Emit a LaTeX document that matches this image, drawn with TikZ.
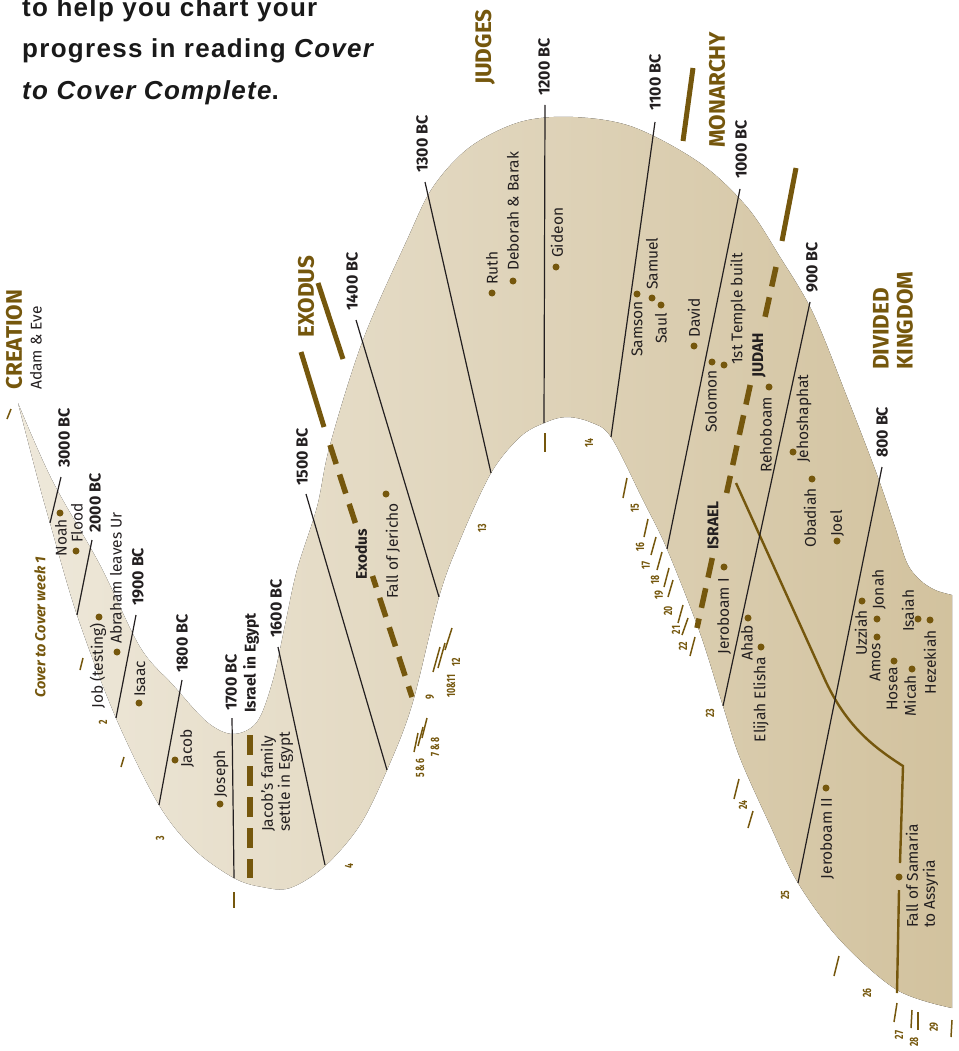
\documentclass[tikz,border=0pt]{standalone}
\usepackage{fontspec}
\setmainfont{Fira Sans}
\newfontfamily\topfont{Liberation Sans}[LetterSpace=5]
\definecolor{gold}{RGB}{117,87,13}
\definecolor{ink}{RGB}{35,31,32}
\definecolor{bandL}{RGB}{238,232,218}
\definecolor{bandR}{RGB}{210,194,158}
\newcommand{\wkn}[1]{\scalebox{0.72}[1]{#1}}
\tikzset{
  dateline/.style={draw=ink, line width=1.2pt},
  wtick/.style={draw=gold, line width=1.5pt},
  erabar/.style={draw=gold, line width=5pt},
  eradash/.style={draw=gold, line width=5.5pt, dash pattern=on 20pt off 11pt},
  splitline/.style={draw=gold, line width=2.4pt},
  datelbl/.style={rotate=90, anchor=west, inner sep=0pt, text=ink, font=\bfseries\fontsize{16}{16}\selectfont},
  evt/.style={rotate=90, inner sep=0pt, text=ink, font=\fontsize{15.5}{17}\selectfont},
  evtw/.style={evt, anchor=west},
  evte/.style={evt, anchor=east},
  evtb/.style={rotate=90, anchor=west, inner sep=0pt, text=ink, font=\bfseries\fontsize{15.5}{16}\selectfont},
  eralbl/.style={rotate=90, anchor=west, inner sep=0pt, text=gold, font=\bfseries\fontsize{22.5}{24}\selectfont},
  wk/.style={rotate=90, inner sep=0pt, text=gold, font=\bfseries\fontsize{12}{12}\selectfont},
  evdot/.style={circle, fill=gold, inner sep=0pt, minimum size=7pt},
  topline/.style={anchor=base west, inner sep=0pt, text=black!90, font=\topfont\bfseries\fontsize{26}{28}\selectfont}
}
\begin{document}
\begin{tikzpicture}[x=1pt,y=-1pt]
\useasboundingbox (0,0) rectangle (958,1051);
% ribbon
\fill[left color=bandL, right color=bandR]
  plot[smooth, tension=0.55] coordinates {(18,403) (38,480) (50,523) (77,615) (116,718) (159,805) (195,850) (234,878) (262,887) (290,888) (325,866) (360,825) (387,770) (412,705) (439,597) (460,540) (491,473) (520,437) (544,423) (566,417) (590,422) (611,437) (643,500) (667,549) (700,633) (723,706) (740,758) (770,825) (798,883) (840,940) (897,990) (952,1008)}
  -- (952,595) --
  plot[smooth, tension=0.55] coordinates {(952,595) (935,590) (920,580) (907,563) (895,527) (876,472) (847,397) (813,313) (780,257) (747,207) (700,163) (633,127) (573,117) (520,122) (470,147) (433,187) (407,240) (363,340) (330,445) (317,507) (297,570) (285,625) (273,680) (257,722) (233,734) (207,722) (173,685) (140,647) (100,565) (52,480) (18,403)}
  -- cycle;

% top text
\node[topline] (top1) at (22,17) {to help you chart your};
\node[topline] (top2) at (22,58) {progress in reading \textit{Cover}};
\node[topline] (top3) at (22,100) {\textit{to Cover Complete}.};

% era labels
\node[eralbl] (creation) at (14,390) {CREATION};
\node[evtw] (adam) at (36,390) {Adam \& Eve};
\node[eralbl] (exodusera) at (306,338) {EXODUS};
\node[eralbl] (judges) at (485,85) {JUDGES};
\node[eralbl] (monarchy) at (717,148) {MONARCHY};
\node[eralbl, align=left] (divided) at (893,370) {DIVIDED\\KINGDOM};

% era markers
\draw[erabar] (318,283) -- (343,359);
\draw[erabar] (301,352) -- (324,427);
\draw[eradash] (330,445) -- (356,525);
\draw[eradash, dash phase=8pt] (372.5,576) -- (412,697);
\draw[erabar] (693,68) -- (683,141);
\draw[erabar] (796,168) -- (782,241);
\draw[eradash] (776,267) -- (764.8,318);
\draw[eradash] (750.2,385) -- (726.6,493);
\draw[eradash] (712.3,558) -- (697,628);
\draw[eradash] (250,735) -- (250,878);

% Israel line
\coordinate (isA) at (736,483);
\coordinate (isB) at (903,766);
\coordinate (isC) at (900,863);
\coordinate (isD) at (899,890);
\coordinate (isE) at (897,993);
\draw[splitline] (isA) -- (826,682) .. controls (846,724) and (870,745) .. (isB) -- (isC);
\draw[splitline] (isD) -- (isE);

% date lines and labels
\node[datelbl] (d3000) at (64,468) {3000 BC};
\draw[dateline] (61,477) -- (50,523);
\node[datelbl] (d2000) at (95,533) {2000 BC};
\draw[dateline] (92,540) -- (77,615);
\node[datelbl] (d1900) at (138,606) {1900 BC};
\draw[dateline] (136,615) -- (116,718);
\node[datelbl] (d1800) at (182,673) {1800 BC};
\draw[dateline] (182,680) -- (159,805);
\node[datelbl] (d1700) at (231,711) {1700 BC};
\draw[dateline] (232,718) -- (234,878);
\node[datelbl] (d1600) at (276,638) {1600 BC};
\draw[dateline] (278,647) -- (325,865);
\node[datelbl] (d1500) at (302,486) {1500 BC};
\draw[dateline] (306,494) -- (387,770);
\node[datelbl] (d1400) at (352,311) {1400 BC};
\draw[dateline] (356,320) -- (439,597);
\node[datelbl] (d1300) at (422,173) {1300 BC};
\draw[dateline] (425,182) -- (491,473);
\node[datelbl] (d1200) at (544,96) {1200 BC};
\draw[dateline] (545,105) -- (544,423);
\node[datelbl] (d1100) at (655,111) {1100 BC};
\draw[dateline] (655,122) -- (611,437);
\node[datelbl] (d1000) at (741,179) {1000 BC};
\draw[dateline] (740,189) -- (667,549);
\node[datelbl] (d900) at (812,293) {900 BC};
\draw[dateline] (810,302) -- (723,706);
\node[datelbl] (d800) at (882,458) {800 BC};
\draw[dateline] (882,467) -- (798,883);

% bold phase labels
\node[evtb] (israelegypt) at (251,713) {Israel in Egypt};
\node[evtb] (exodus) at (361,580) {Exodus};
\node[evtb] (israel) at (713,550) {ISRAEL};
\node[evtb] (judah) at (759,378) {JUDAH};

% events
\node[evdot] (pNoah) at (60,513) {}; \node[evte] (tNoah) at (61,519) {Noah};
\node[evdot] (pFlood) at (76,551) {}; \node[evtw] (tFlood) at (77,543) {Flood};
\node[evdot] (pJob) at (99,617) {}; \node[evte] (tJob) at (98,623) {Job (testing)};
\node[evdot] (pAbr) at (117,652) {}; \node[evtw] (tAbr) at (116,644) {Abraham leaves Ur};
\node[evdot] (pIsaac) at (139,703) {}; \node[evtw] (tIsaac) at (140,697) {Isaac};
\node[evdot] (pJacob) at (175,760) {}; \node[evtw] (tJacob) at (187,768) {Jacob};
\node[evdot] (pJoseph) at (220,804) {}; \node[evtw] (tJoseph) at (221,798) {Joseph};
\node[evtw, align=left] (tSettle) at (277,832) {Jacob's family\\settle in Egypt};
\node[evdot] (pJericho) at (386,494) {}; \node[evte] (tJericho) at (393,503) {Fall of Jericho};
\node[evdot] (pRuth) at (492,293) {}; \node[evtw] (tRuth) at (492,285) {Ruth};
\node[evdot] (pDeb) at (513,281) {}; \node[evtw] (tDeb) at (513,271) {Deborah \& Barak};
\node[evdot] (pGid) at (556,267) {}; \node[evtw] (tGid) at (557,258) {Gideon};
\node[evdot] (pSamson) at (637,294) {}; \node[evte] (tSamson) at (637,301) {Samson};
\node[evdot] (pSamuel) at (652,298) {}; \node[evtw] (tSamuel) at (652,290) {Samuel};
\node[evdot] (pSaul) at (661,305) {}; \node[evte] (tSaul) at (661,313) {Saul};
\node[evdot] (pDavid) at (694,346) {}; \node[evtw] (tDavid) at (694,338) {David};
\node[evdot] (pSol) at (712,362) {}; \node[evte] (tSol) at (711,370) {Solomon};
\node[evdot] (pTemple) at (724,365) {}; \node[evtw] (tTemple) at (738,365) {1st Temple built};
\node[evdot] (pReh) at (769,387) {}; \node[evte] (tReh) at (766,397) {Rehoboam};
\node[evdot] (pJehosh) at (793,452) {}; \node[evtw] (tJehosh) at (804,463) {Jehoshaphat};
\node[evdot] (pObad) at (812,479) {}; \node[evte] (tObad) at (810,488) {Obadiah};
\node[evdot] (pJoel) at (837,541) {}; \node[evtw] (tJoel) at (837,537) {Joel};
\node[evdot] (pJer1) at (724,567) {}; \node[evte] (tJer1) at (724,578) {Jeroboam I};
\node[evdot] (pAhab) at (748,618) {}; \node[evte] (tAhab) at (747,625) {Ahab};
\node[evdot] (pElijah) at (761,647) {}; \node[evte] (tElijah) at (761,657) {Elijah Elisha};
\node[evdot] (pUzz) at (862,601) {}; \node[evte] (tUzz) at (861,610) {Uzziah};
\node[evdot] (pJonah) at (877,619) {}; \node[evtw] (tJonah) at (879,610) {Jonah};
\node[evdot] (pAmos) at (877,637) {}; \node[evte] (tAmos) at (875,643) {Amos};
\node[evdot] (pIsaiah) at (918,619) {}; \node[evtw] (tIsaiah) at (908,632) {Isaiah};
\node[evdot] (pHez) at (930,620) {}; \node[evte] (tHez) at (930,630) {Hezekiah};
\node[evdot] (pHosea) at (894,661) {}; \node[evte] (tHosea) at (892,667) {Hosea};
\node[evdot] (pMicah) at (912,669) {}; \node[evte] (tMicah) at (910,675) {Micah};
\node[evdot] (pJer2) at (826,788) {}; \node[evte] (tJer2) at (827,798) {Jeroboam II};
\node[evdot] (pSamaria) at (899,877) {}; \node[evtw, align=left] (tSamaria) at (922,928) {Fall of Samaria\\to Assyria};

% week ticks
\draw[wtick] (7,419) -- (11,409);
\draw[wtick] (80,670) -- (83,658);
\draw[wtick] (121,767) -- (124,757);
\draw[wtick] (234,892) -- (234,908);
\draw[wtick] (414,752) -- (418,733);
\draw[wtick] (418,746) -- (423,727);
\draw[wtick] (422,738) -- (427,718);
\draw[wtick] (433,672) -- (440,647);
\draw[wtick] (438,668) -- (445,643);
\draw[wtick] (445,650) -- (452,628);
\draw[wtick] (545,433) -- (545,452);
\draw[wtick] (627,478) -- (623,498);
\draw[wtick] (648,519) -- (644,537);
\draw[wtick] (656,537) -- (651,555);
\draw[wtick] (662,552) -- (657,570);
\draw[wtick] (669,568) -- (664,587);
\draw[wtick] (673,580) -- (668,597);
\draw[wtick] (683,605) -- (678,623);
\draw[wtick] (688,618) -- (682,635);
\draw[wtick] (695,637) -- (690,656);
\draw[wtick] (739,779) -- (734,799);
\draw[wtick] (753,811) -- (748,828);
\draw[wtick] (839,956) -- (834,976);
\draw[wtick] (897,1003) -- (894,1022);
\draw[wtick] (912,1010) -- (911,1028);
\draw[wtick] (918,1012) -- (918,1030);
\draw[wtick] (952,1020) -- (951,1037);

% week labels
\node[rotate=90, anchor=west, inner sep=0pt, text=gold, font=\bfseries\itshape\fontsize{14.5}{15}\selectfont] (w1) at (40,698) {Cover to Cover week 1};
\node[wk] (w2) at (103,722) {\wkn{2}};
\node[wk] (w3) at (160,838) {\wkn{3}};
\node[wk] (w4) at (349,866) {\wkn{4}};
\node[wk] (w5) at (420,768) {\wkn{5\,\&\,6}};
\node[wk] (w7) at (435,747) {\wkn{7\,\&\,8}};
\node[wk] (w9) at (430,697) {\wkn{9}};
\node[wk] (w10) at (451,686) {\wkn{10\&11}};
\node[wk] (w12) at (456,662) {\wkn{12}};
\node[wk] (w13) at (482,528) {\wkn{13}};
\node[wk] (w14) at (589,443) {\wkn{14}};
\node[wk] (w15) at (635,508) {\wkn{15}};
\node[wk] (w16) at (640,547) {\wkn{16}};
\node[wk] (w17) at (646,565) {\wkn{17}};
\node[wk] (w18) at (655,580) {\wkn{18}};
\node[wk] (w19) at (659,595) {\wkn{19}};
\node[wk] (w20) at (668,611) {\wkn{20}};
\node[wk] (w21) at (676,630) {\wkn{21}};
\node[wk] (w22) at (683,646) {\wkn{22}};
\node[wk] (w23) at (710,713) {\wkn{23}};
\node[wk] (w24) at (743,805) {\wkn{24}};
\node[wk] (w25) at (785,895) {\wkn{25}};
\node[wk] (w26) at (867,993) {\wkn{26}};
\node[wk] (w27) at (899,1035) {\wkn{27}};
\node[wk] (w28) at (914,1042) {\wkn{28}};
\node[wk] (w29) at (934,1027) {\wkn{29}};
\end{tikzpicture}
\end{document}
